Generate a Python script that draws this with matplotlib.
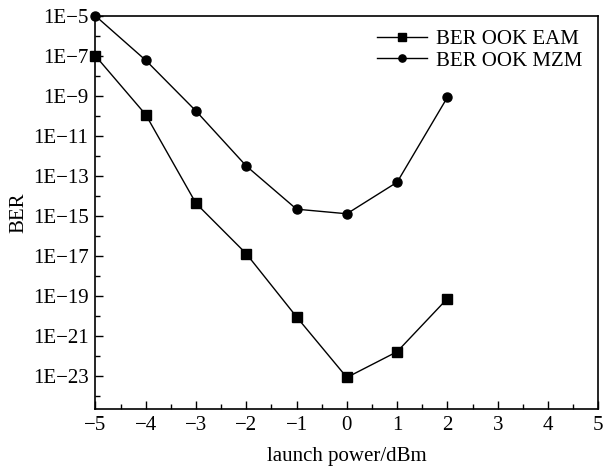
import matplotlib
matplotlib.use("Agg")
import matplotlib.pyplot as plt
from matplotlib.ticker import FixedLocator, FixedFormatter, MultipleLocator
import numpy as np

plt.rcParams['font.family'] = ['Liberation Serif', 'DejaVu Serif']

power = [-5, -4, -3, -2, -1, 0, 1, 2]
ber_eam_exp = [-7.0, -9.94, -14.38, -16.9, -20.06, -23.09, -21.8, -19.14]
ber_mzm_exp = [-5.0, -7.22, -9.76, -12.51, -14.67, -14.9, -13.32, -9.07]
ber_eam = [10.0 ** e for e in ber_eam_exp]
ber_mzm = [10.0 ** e for e in ber_mzm_exp]

ytick_exps = [-5, -7, -9, -11, -13, -15, -17, -19, -21, -23]
ytick_labels = ["1E\u2212%d" % (-e) for e in ytick_exps]
xtick_vals = [-5, -4, -3, -2, -1, 0, 1, 2, 3, 4, 5]
xtick_labels = [("\u2212%d" % (-v)) if v < 0 else str(v) for v in xtick_vals]

fig = plt.figure(figsize=(6.08, 4.68), dpi=100)
ax = fig.add_axes([0.157, 0.126, 0.827, 0.840])

ax.plot(power, ber_eam, color='black', lw=1.0, marker='s', ms=6.5,
        label='BER OOK EAM', clip_on=False, zorder=3)
ax.plot(power, ber_mzm, color='black', lw=1.0, marker='o', ms=6.5,
        label='BER OOK MZM', clip_on=False, zorder=3)

ax.set_yscale('log')
ax.set_xlim(-5, 5)
ax.set_ylim(10 ** -24.67, 1e-5)

ax.yaxis.set_major_locator(FixedLocator([10.0 ** e for e in ytick_exps]))
ax.yaxis.set_major_formatter(FixedFormatter(ytick_labels))
ax.yaxis.set_minor_locator(FixedLocator([10.0 ** e for e in range(-24, -5, 2)]))
ax.yaxis.set_minor_formatter(FixedFormatter([]))

ax.xaxis.set_major_locator(FixedLocator(xtick_vals))
ax.xaxis.set_major_formatter(FixedFormatter(xtick_labels))
ax.xaxis.set_minor_locator(MultipleLocator(0.5))

ax.tick_params(which='both', direction='in', top=False, right=False, labelsize=15)
ax.tick_params(which='major', length=6, width=1.0, pad=5)
ax.tick_params(which='minor', length=3.5, width=1.0)
for s in ax.spines.values():
    s.set_linewidth(1.2)

ax.set_xlabel('launch power/dBm', fontsize=15, labelpad=9)
ax.set_ylabel('BER', fontsize=15, labelpad=3)

leg = ax.legend(loc='upper right', frameon=False, fontsize=15,
                bbox_to_anchor=(0.997, 1.002), handlelength=2.4, markerscale=0.8,
                handletextpad=0.4, labelspacing=0.08, borderaxespad=0.3)

fig.savefig('out.png', dpi=100)
